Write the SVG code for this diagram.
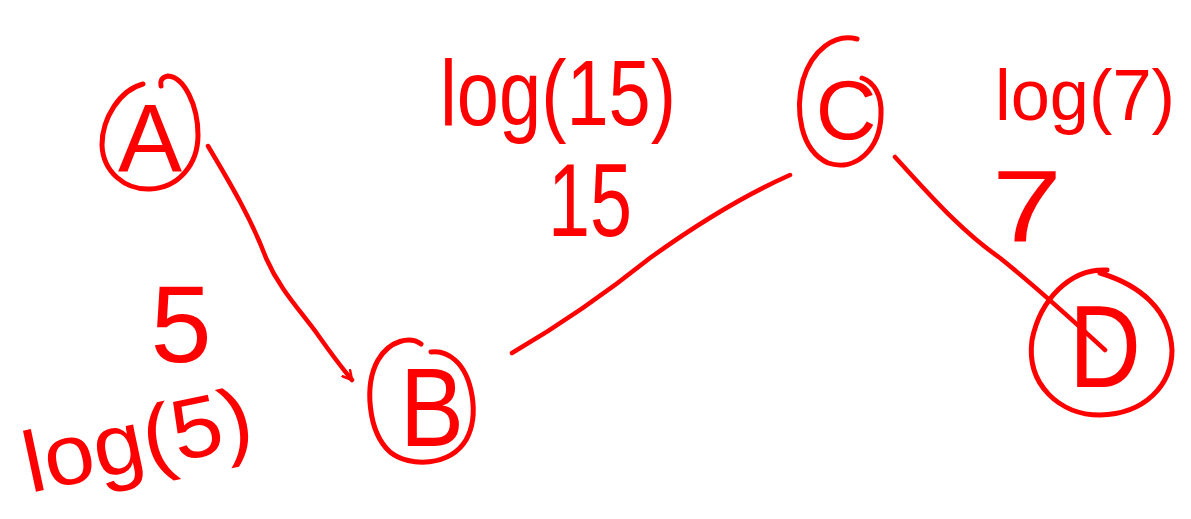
<svg xmlns="http://www.w3.org/2000/svg" width="1191" height="519" viewBox="0 0 1191 519">
<style>
.ink{fill:none;stroke:#f00;stroke-width:5;stroke-linecap:round;stroke-linejoin:round}
.edge{fill:none;stroke:#f00;stroke-width:4.5;stroke-linecap:round;stroke-linejoin:round}
.t{fill:#f00;font-family:"Liberation Sans",Arial,sans-serif}
</style>
<defs>
<marker id="arr" viewBox="0 0 12 12" refX="10" refY="6" markerWidth="12" markerHeight="12" markerUnits="userSpaceOnUse" orient="auto">
<path d="M1,1 L10,6 L1,11" fill="none" stroke="#f00" stroke-width="2.5" stroke-linecap="round"/>
</marker>
</defs>
<rect width="1191" height="519" fill="#fff"/>
<g id="edges">
<path class="edge" d="M208,146 C225,175 250,215 266,258 C280,290 300,310 318,335 C330,352 342,368 352,380" marker-end="url(#arr)"/>
<path class="edge" d="M512,353 C560,325 610,290 650,258 C700,222 745,195 790,175"/>
<path class="edge" d="M895,157 C930,195 960,230 1000,258 C1040,290 1070,318 1105,350"/>
</g>
<g id="node-A">
<path class="ink" d="M143,84 C120,90 102,118 102,145 C103,172 125,190 150,189 C178,188 198,165 198,135 C198,105 184,77 168,76 C161,77 160,82 161,86"/>
<text class="t" x="150" y="171" font-size="96" text-anchor="middle">A</text>
</g>
<g id="node-B">
<path class="ink" d="M421,344 C410,336 390,340 378,360 C364,385 368,432 390,452 C410,468 450,466 466,440 C480,415 472,375 455,360 C446,352 438,351 431,352"/>
<text class="t" x="432" y="446" font-size="112" text-anchor="middle" textLength="64" lengthAdjust="spacingAndGlyphs">B</text>
</g>
<g id="node-C">
<path class="ink" d="M857,39 C835,33 812,50 803,80 C795,110 800,150 828,163 C855,172 880,150 881,115 C882,95 874,82 862,78"/>
<text class="t" x="846" y="139" font-size="84" text-anchor="middle">C</text>
</g>
<g id="node-D">
<path class="ink" d="M1107,270 C1070,268 1040,300 1032,340 C1026,385 1060,415 1100,415 C1145,414 1172,385 1172,350 C1170,310 1140,285 1100,273"/>
<text class="t" x="1105" y="387" font-size="116" text-anchor="middle" textLength="72" lengthAdjust="spacingAndGlyphs">D</text>
</g>
<g id="labels">
<text class="t" x="181" y="362" font-size="110" text-anchor="middle">5</text>
<text class="t" x="30" y="493" font-size="86" textLength="232" lengthAdjust="spacingAndGlyphs" transform="rotate(-12 30 493)">log(5)</text>
<text class="t" x="440" y="125" font-size="92" textLength="236" lengthAdjust="spacingAndGlyphs">log(15)</text>
<text class="t" x="548" y="236" font-size="104" textLength="84" lengthAdjust="spacingAndGlyphs">15</text>
<text class="t" x="992" y="242" font-size="102" textLength="70" lengthAdjust="spacingAndGlyphs">7</text>
<text class="t" x="995" y="120" font-size="72" textLength="180" lengthAdjust="spacingAndGlyphs">log(7)</text>
</g>
</svg>
